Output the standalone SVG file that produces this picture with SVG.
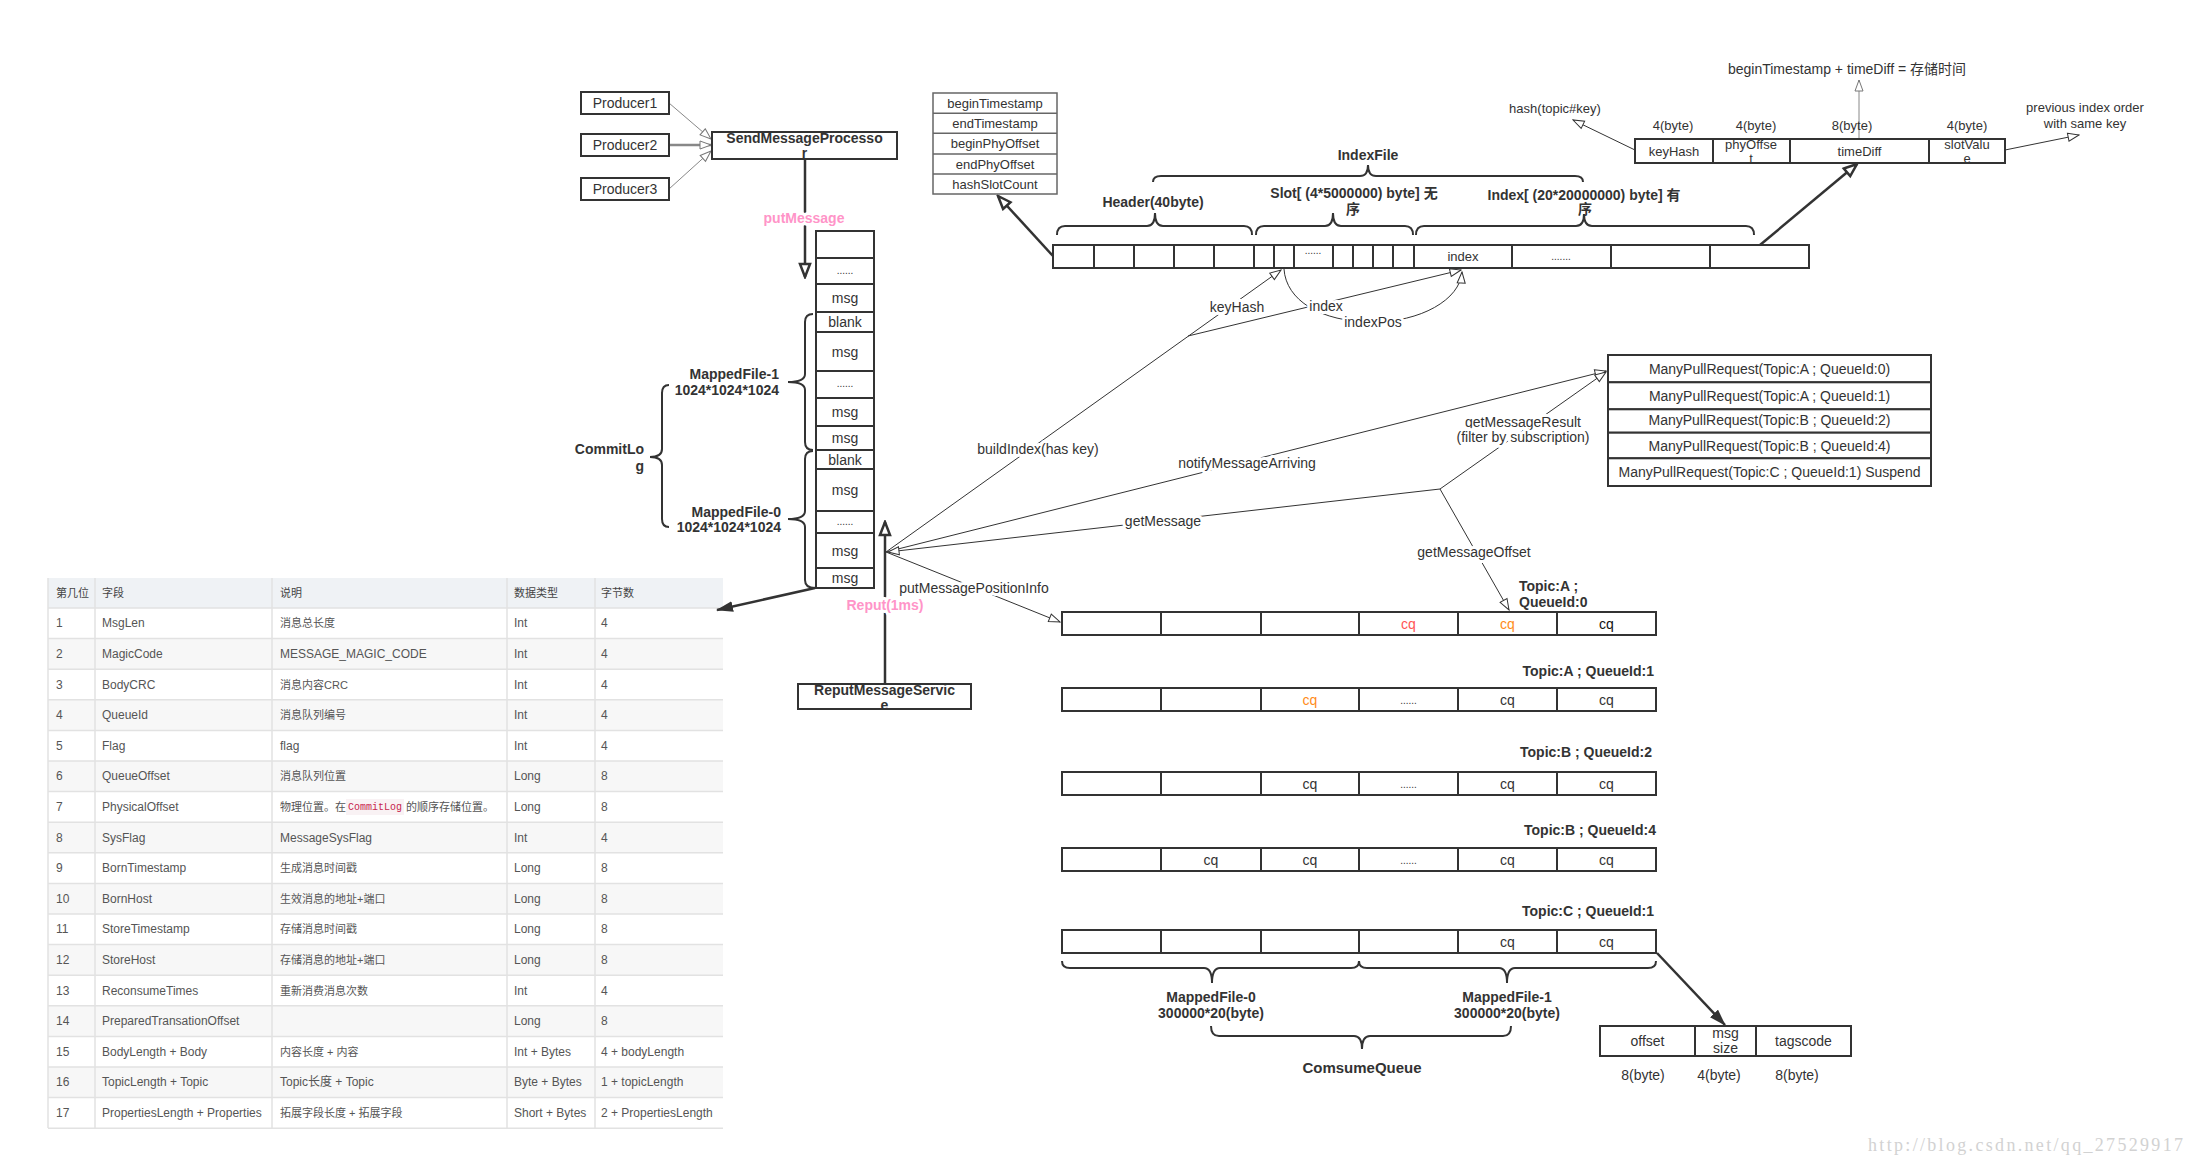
<svg xmlns="http://www.w3.org/2000/svg" width="2197" height="1166" viewBox="0 0 2197 1166">
<defs>
<style>
text{font-family:'Liberation Sans','Noto Sans CJK SC',sans-serif;font-size:14px;fill:#333;}
.c{text-anchor:middle;dominant-baseline:central;}
.e{text-anchor:end;dominant-baseline:central;}
.s{dominant-baseline:central;}
.b{font-weight:bold;}
.pk{fill:#ff94c8;font-weight:bold;font-size:14px;}
.box{fill:#fff;stroke:#333;stroke-width:2;}
.gbox{fill:#fff;stroke:#666;stroke-width:1.5;}
.ln{fill:none;stroke:#333;stroke-width:1;}
.gl{fill:none;stroke:#888;stroke-width:1;}
.tk{fill:none;stroke:#333;stroke-width:2.5;}
.br{fill:none;stroke:#333;stroke-width:2;}
.halo{stroke:#fff;stroke-width:6;stroke-linejoin:round;paint-order:stroke;}
.tb text{font-size:12px;fill:#555;dominant-baseline:central;}
.tb text.k{font-size:11px;}
.grid{stroke:#e2e2e2;stroke-width:1.5;}
.dots{font-size:10px;}
.red{fill:#ff5555;}
.org{fill:#ff8c1a;}
.sm{font-size:13px;}
.f13{font-size:13px;}
</style>
<marker id="arO" viewBox="0 0 13 10" refX="12" refY="5" markerWidth="13" markerHeight="10" orient="auto" markerUnits="userSpaceOnUse"><path d="M1,1 L12,5 L1,9 Z" fill="#fff" stroke="#333" stroke-width="1"/></marker>
<marker id="arG" viewBox="0 0 13 10" refX="12" refY="5" markerWidth="13" markerHeight="10" orient="auto" markerUnits="userSpaceOnUse"><path d="M1,1 L12,5 L1,9 Z" fill="#fff" stroke="#777" stroke-width="1"/></marker>
<marker id="arT" viewBox="0 0 17 14" refX="15" refY="7" markerWidth="17" markerHeight="14" orient="auto" markerUnits="userSpaceOnUse"><path d="M2,2 L15,7 L2,12 Z" fill="#fff" stroke="#333" stroke-width="2.5" stroke-linejoin="miter"/></marker>
<marker id="arF" viewBox="0 0 17 11" refX="16" refY="5.5" markerWidth="17" markerHeight="11" orient="auto" markerUnits="userSpaceOnUse"><path d="M0,0 L17,5.5 L0,11 Z" fill="#333"/></marker>
</defs>
<rect x="0" y="0" width="2197" height="1166" fill="#fff"/>

<!-- Table -->
<g id="table" class="tb">
<rect x="48" y="578" width="675" height="30" fill="#eff2f5"/>
<rect x="48" y="638.6" width="675" height="30.6" fill="#f7f7f7"/>
<rect x="48" y="699.8" width="675" height="30.6" fill="#f7f7f7"/>
<rect x="48" y="761" width="675" height="30.6" fill="#f7f7f7"/>
<rect x="48" y="822.2" width="675" height="30.6" fill="#f7f7f7"/>
<rect x="48" y="883.4" width="675" height="30.6" fill="#f7f7f7"/>
<rect x="48" y="944.6" width="675" height="30.6" fill="#f7f7f7"/>
<rect x="48" y="1005.8" width="675" height="30.6" fill="#f7f7f7"/>
<rect x="48" y="1067" width="675" height="30.6" fill="#f7f7f7"/>
<g class="grid">
<line x1="48" y1="608" x2="723" y2="608"/><line x1="48" y1="638.6" x2="723" y2="638.6"/><line x1="48" y1="669.2" x2="723" y2="669.2"/><line x1="48" y1="699.8" x2="723" y2="699.8"/><line x1="48" y1="730.4" x2="723" y2="730.4"/><line x1="48" y1="761" x2="723" y2="761"/><line x1="48" y1="791.6" x2="723" y2="791.6"/><line x1="48" y1="822.2" x2="723" y2="822.2"/><line x1="48" y1="852.8" x2="723" y2="852.8"/><line x1="48" y1="883.4" x2="723" y2="883.4"/><line x1="48" y1="914" x2="723" y2="914"/><line x1="48" y1="944.6" x2="723" y2="944.6"/><line x1="48" y1="975.2" x2="723" y2="975.2"/><line x1="48" y1="1005.8" x2="723" y2="1005.8"/><line x1="48" y1="1036.4" x2="723" y2="1036.4"/><line x1="48" y1="1067" x2="723" y2="1067"/><line x1="48" y1="1097.6" x2="723" y2="1097.6"/><line x1="48" y1="1128.2" x2="723" y2="1128.2"/>
<line x1="48" y1="578" x2="48" y2="1128"/><line x1="95" y1="578" x2="95" y2="1128"/><line x1="272" y1="578" x2="272" y2="1128"/><line x1="507" y1="578" x2="507" y2="1128"/><line x1="595" y1="578" x2="595" y2="1128"/>
</g>
<text x="56" y="593" class="k" style="fill:#444">第几位</text><text x="102" y="593" class="k" style="fill:#444">字段</text><text x="280" y="593" class="k" style="fill:#444">说明</text><text x="514" y="593" class="k" style="fill:#444">数据类型</text><text x="601" y="593" class="k" style="fill:#444">字节数</text>
<text x="56" y="623.3">1</text><text x="102" y="623.3">MsgLen</text><text x="280" y="623.3" class="k">消息总长度</text><text x="514" y="623.3">Int</text><text x="601" y="623.3">4</text>
<text x="56" y="653.9">2</text><text x="102" y="653.9">MagicCode</text><text x="280" y="653.9">MESSAGE_MAGIC_CODE</text><text x="514" y="653.9">Int</text><text x="601" y="653.9">4</text>
<text x="56" y="684.5">3</text><text x="102" y="684.5">BodyCRC</text><text x="280" y="684.5" class="k">消息内容CRC</text><text x="514" y="684.5">Int</text><text x="601" y="684.5">4</text>
<text x="56" y="715.1">4</text><text x="102" y="715.1">QueueId</text><text x="280" y="715.1" class="k">消息队列编号</text><text x="514" y="715.1">Int</text><text x="601" y="715.1">4</text>
<text x="56" y="745.7">5</text><text x="102" y="745.7">Flag</text><text x="280" y="745.7">flag</text><text x="514" y="745.7">Int</text><text x="601" y="745.7">4</text>
<text x="56" y="776.3">6</text><text x="102" y="776.3">QueueOffset</text><text x="280" y="776.3" class="k">消息队列位置</text><text x="514" y="776.3">Long</text><text x="601" y="776.3">8</text>
<text x="56" y="806.9">7</text><text x="102" y="806.9">PhysicalOffset</text>
<rect x="346" y="799" width="58" height="16" fill="#f9f2f4"/>
<text x="280" y="806.9" class="k">物理位置。在</text><text x="348" y="806.9" textLength="54" lengthAdjust="spacingAndGlyphs" style="font-family:'Liberation Mono',monospace;font-size:11px;fill:#c7254e">CommitLog</text><text x="406" y="806.9" class="k">的顺序存储位置。</text>
<text x="514" y="806.9">Long</text><text x="601" y="806.9">8</text>
<text x="56" y="837.5">8</text><text x="102" y="837.5">SysFlag</text><text x="280" y="837.5">MessageSysFlag</text><text x="514" y="837.5">Int</text><text x="601" y="837.5">4</text>
<text x="56" y="868.1">9</text><text x="102" y="868.1">BornTimestamp</text><text x="280" y="868.1" class="k">生成消息时间戳</text><text x="514" y="868.1">Long</text><text x="601" y="868.1">8</text>
<text x="56" y="898.7">10</text><text x="102" y="898.7">BornHost</text><text x="280" y="898.7" class="k">生效消息的地址+端口</text><text x="514" y="898.7">Long</text><text x="601" y="898.7">8</text>
<text x="56" y="929.3">11</text><text x="102" y="929.3">StoreTimestamp</text><text x="280" y="929.3" class="k">存储消息时间戳</text><text x="514" y="929.3">Long</text><text x="601" y="929.3">8</text>
<text x="56" y="959.9">12</text><text x="102" y="959.9">StoreHost</text><text x="280" y="959.9" class="k">存储消息的地址+端口</text><text x="514" y="959.9">Long</text><text x="601" y="959.9">8</text>
<text x="56" y="990.5">13</text><text x="102" y="990.5">ReconsumeTimes</text><text x="280" y="990.5" class="k">重新消费消息次数</text><text x="514" y="990.5">Int</text><text x="601" y="990.5">4</text>
<text x="56" y="1021.1">14</text><text x="102" y="1021.1">PreparedTransationOffset</text><text x="514" y="1021.1">Long</text><text x="601" y="1021.1">8</text>
<text x="56" y="1051.7">15</text><text x="102" y="1051.7">BodyLength + Body</text><text x="280" y="1051.7" class="k">内容长度 + 内容</text><text x="514" y="1051.7">Int + Bytes</text><text x="601" y="1051.7">4 + bodyLength</text>
<text x="56" y="1082.3">16</text><text x="102" y="1082.3">TopicLength + Topic</text><text x="280" y="1082.3">Topic长度 + Topic</text><text x="514" y="1082.3">Byte + Bytes</text><text x="601" y="1082.3">1 + topicLength</text>
<text x="56" y="1112.9">17</text><text x="102" y="1112.9">PropertiesLength + Properties</text><text x="280" y="1112.9" class="k">拓展字段长度 + 拓展字段</text><text x="514" y="1112.9">Short + Bytes</text><text x="601" y="1112.9">2 + PropertiesLength</text>
</g>

<!-- Connectors -->
<g id="connectors">
<path class="gl" d="M669,103 L711,139" marker-end="url(#arG)"/>
<path d="M669,145 L711,145" fill="none" stroke="#888" stroke-width="2.5" marker-end="url(#arG)"/>
<path class="gl" d="M669,189 L711,151" marker-end="url(#arG)"/>
<path class="tk" d="M805,159 L805,277" stroke-width="3" marker-end="url(#arT)"/>
<path class="tk" d="M885,684 L885,522" stroke-width="3" marker-end="url(#arT)"/>
<path class="tk" d="M815,588 L717,610" marker-end="url(#arF)"/>
<path class="ln" d="M886,552 L1281,270" marker-end="url(#arO)"/>
<path class="ln" d="M1188,336 L1461,270" marker-end="url(#arO)"/>
<path class="ln" d="M1284,269 C1286,300 1320,322 1373,322 C1420,322 1460,300 1462,272" marker-end="url(#arO)"/>
<path class="ln" d="M886,552 L1606,371" marker-end="url(#arO)"/>
<path class="ln" d="M1440,489 L888,552" marker-end="url(#arO)"/>
<path class="ln" d="M1440,489 L1606,372" marker-end="url(#arO)"/>
<path class="ln" d="M1440,489 L1509,610" marker-end="url(#arO)"/>
<path class="ln" d="M886,552 L1060,622" marker-end="url(#arO)"/>
<path class="tk" stroke-width="2" d="M1053,256 L998,196" marker-end="url(#arT)"/>
<path class="tk" stroke-width="2" d="M1760,245 L1857,164" marker-end="url(#arT)"/>
<path class="ln" d="M1635,150 L1573,120" marker-end="url(#arO)"/>
<path class="gl" d="M1859,139 L1859,80" marker-end="url(#arG)"/>
<path class="ln" d="M2005,150 L2079,135" marker-end="url(#arO)"/>
<path class="tk" stroke-width="2" d="M1657,953 L1725,1025" marker-end="url(#arF)"/>
<text x="804" y="218" class="c pk halo">putMessage</text>
<text x="885" y="605" class="c pk halo">Reput(1ms)</text>
<text x="1038" y="449" class="c halo">buildIndex(has key)</text>
<text x="1237" y="307" class="c halo">keyHash</text>
<text x="1326" y="306" class="c halo">index</text>
<text x="1373" y="322" class="c halo">indexPos</text>
<text x="1247" y="463" class="c halo">notifyMessageArriving</text>
<text x="1163" y="521" class="c halo">getMessage</text>
<text x="1523" y="422" class="c halo">getMessageResult</text>
<text x="1523" y="437" class="c halo">(filter by subscription)</text>
<text x="1474" y="552" class="c halo">getMessageOffset</text>
<text x="974" y="588" class="c halo">putMessagePositionInfo</text>
</g>

<!-- Producers -->
<g id="producer1"><rect class="box" x="581" y="92" width="88" height="22"/><text x="625" y="103" class="c">Producer1</text></g>
<g id="producer2"><rect class="box" x="581" y="134" width="88" height="22"/><text x="625" y="145" class="c">Producer2</text></g>
<g id="producer3"><rect class="box" x="581" y="178" width="88" height="22"/><text x="625" y="189" class="c">Producer3</text></g>
<g id="sendMessageProcessor"><rect class="box" x="712" y="132" width="185" height="27"/><text x="804.5" y="138" class="c b">SendMessageProcesso</text><text x="804.5" y="153" class="c b">r</text></g>

<!-- CommitLog column -->
<g id="commitlog">
<rect class="box" x="816" y="231" width="58" height="357"/>
<g stroke="#333" stroke-width="2">
<line x1="816" y1="258" x2="874" y2="258"/><line x1="816" y1="284" x2="874" y2="284"/><line x1="816" y1="312" x2="874" y2="312"/><line x1="816" y1="332" x2="874" y2="332"/><line x1="816" y1="371" x2="874" y2="371"/><line x1="816" y1="398" x2="874" y2="398"/><line x1="816" y1="426" x2="874" y2="426"/><line x1="816" y1="450" x2="874" y2="450"/><line x1="816" y1="469" x2="874" y2="469"/><line x1="816" y1="511" x2="874" y2="511"/><line x1="816" y1="533" x2="874" y2="533"/><line x1="816" y1="568" x2="874" y2="568"/>
</g>
<text x="845" y="270" class="c dots">......</text>
<text x="845" y="298" class="c">msg</text>
<text x="845" y="322" class="c">blank</text>
<text x="845" y="351.5" class="c">msg</text>
<text x="845" y="383" class="c dots">......</text>
<text x="845" y="412" class="c">msg</text>
<text x="845" y="438" class="c">msg</text>
<text x="845" y="459.5" class="c">blank</text>
<text x="845" y="490" class="c">msg</text>
<text x="845" y="521" class="c dots">......</text>
<text x="845" y="550.5" class="c">msg</text>
<text x="845" y="578" class="c">msg</text>
</g>
<g id="mappedfile1-brace"><path class="br" d="M813,314 Q805,314 805,322 L805,374 Q805,382 788,382 Q805,382 805,390 L805,442 Q805,450 813,450"/><text x="779" y="374" class="e b">MappedFile-1</text><text x="779" y="390" class="e b">1024*1024*1024</text></g>
<g id="mappedfile0-brace"><path class="br" d="M813,451 Q805,451 805,459 L805,511 Q805,519 788,519 Q805,519 805,527 L805,580 Q805,588 815,588"/><text x="781" y="512" class="e b">MappedFile-0</text><text x="781" y="527" class="e b">1024*1024*1024</text></g>
<g id="commitlog-brace"><path class="br" d="M669,385 Q662,385 662,393 L662,449 Q662,457 650,457 Q662,457 662,465 L662,519 Q662,527 669,527"/><text x="644" y="449" class="e b">CommitLo</text><text x="644" y="466" class="e b">g</text></g>

<g id="reputMessageService"><rect class="box" x="798" y="684" width="173" height="25"/><text x="884.5" y="690" class="c b">ReputMessageServic</text><text x="884.5" y="705" class="c b">e</text></g>

<!-- IndexFile header fields -->
<g id="indexHeader">
<rect class="gbox" x="933" y="93" width="124" height="101"/>
<g stroke="#666" stroke-width="1.5"><line x1="933" y1="113.3" x2="1057" y2="113.3"/><line x1="933" y1="133.3" x2="1057" y2="133.3"/><line x1="933" y1="154" x2="1057" y2="154"/><line x1="933" y1="174" x2="1057" y2="174"/></g>
<text x="995" y="103.5" class="c f13">beginTimestamp</text>
<text x="995" y="123.5" class="c f13">endTimestamp</text>
<text x="995" y="143.8" class="c f13">beginPhyOffset</text>
<text x="995" y="164" class="c f13">endPhyOffset</text>
<text x="995" y="184" class="c f13">hashSlotCount</text>
</g>

<!-- IndexFile bar -->
<g id="indexFile">
<rect class="box" x="1053" y="245" width="756" height="23"/>
<g stroke="#333" stroke-width="2">
<line x1="1094" y1="245" x2="1094" y2="268"/><line x1="1134" y1="245" x2="1134" y2="268"/><line x1="1174" y1="245" x2="1174" y2="268"/><line x1="1214" y1="245" x2="1214" y2="268"/><line x1="1254" y1="245" x2="1254" y2="268"/><line x1="1274" y1="245" x2="1274" y2="268"/><line x1="1294" y1="245" x2="1294" y2="268"/><line x1="1333" y1="245" x2="1333" y2="268"/><line x1="1353" y1="245" x2="1353" y2="268"/><line x1="1373" y1="245" x2="1373" y2="268"/><line x1="1393" y1="245" x2="1393" y2="268"/><line x1="1414" y1="245" x2="1414" y2="268"/><line x1="1512" y1="245" x2="1512" y2="268"/><line x1="1611" y1="245" x2="1611" y2="268"/><line x1="1710" y1="245" x2="1710" y2="268"/>
</g>
<text x="1313" y="250" class="c dots">......</text>
<text x="1463" y="256.5" class="c f13">index</text>
<text x="1561" y="256" class="c dots">.......</text>
<path class="br" d="M1057,235 Q1057,226 1065,226 L1147,226 Q1155,226 1155,213 Q1155,226 1163,226 L1244,226 Q1252,226 1252,235"/>
<path class="br" d="M1256,235 Q1256,226 1264,226 L1325,226 Q1333,226 1333,213 Q1333,226 1341,226 L1405,226 Q1413,226 1413,235"/>
<path class="br" d="M1416,235 Q1416,226 1424,226 L1576,226 Q1584,226 1584,214 Q1584,226 1592,226 L1746,226 Q1754,226 1754,235"/>
<path class="br" d="M1153,182 Q1153,176 1161,176 L1360,176 Q1368,176 1368,165 Q1368,176 1376,176 L1575,176 Q1583,176 1583,182"/>
<text x="1368" y="155" class="c b">IndexFile</text>
<text x="1153" y="202" class="c b">Header(40byte)</text>
<text x="1354" y="193" class="c b">Slot[ (4*5000000) byte] 无</text>
<text x="1353" y="209" class="c b">序</text>
<text x="1584" y="195" class="c b">Index[ (20*20000000) byte] 有</text>
<text x="1585" y="209" class="c b">序</text>
</g>

<!-- Index entry -->
<g id="indexEntry">
<rect class="box" x="1635" y="139" width="370" height="24"/>
<g stroke="#333" stroke-width="2"><line x1="1713" y1="139" x2="1713" y2="163"/><line x1="1790" y1="139" x2="1790" y2="163"/><line x1="1929" y1="139" x2="1929" y2="163"/></g>
<text x="1674" y="151" class="c sm">keyHash</text>
<text x="1751" y="144" class="c sm">phyOffse</text><text x="1751" y="158" class="c sm">t</text>
<text x="1859.5" y="151" class="c sm">timeDiff</text>
<text x="1967" y="144" class="c sm">slotValu</text><text x="1967" y="158" class="c sm">e</text>
<text x="1673" y="125" class="c sm">4(byte)</text>
<text x="1756" y="125" class="c sm">4(byte)</text>
<text x="1852" y="125" class="c sm">8(byte)</text>
<text x="1967" y="125" class="c sm">4(byte)</text>
<text x="1555" y="108" class="c sm">hash(topic#key)</text>
<text x="1847" y="69" class="c">beginTimestamp + timeDiff = 存储时间</text>
<text x="2085" y="107" class="c sm">previous index order</text>
<text x="2085" y="123" class="c sm">with same key</text>
</g>

<!-- ManyPullRequest -->
<g id="manyPullRequest">
<rect class="box" x="1608" y="355" width="323" height="27.3"/>
<rect class="box" x="1608" y="382.3" width="323" height="27"/>
<rect class="box" x="1608" y="409.3" width="323" height="23.4"/>
<rect class="box" x="1608" y="432.7" width="323" height="25.6"/>
<rect class="box" x="1608" y="458.3" width="323" height="27.7"/>
<text x="1769.5" y="369" class="c">ManyPullRequest(Topic:A ; QueueId:0)</text>
<text x="1769.5" y="396" class="c">ManyPullRequest(Topic:A ; QueueId:1)</text>
<text x="1769.5" y="420" class="c">ManyPullRequest(Topic:B ; QueueId:2)</text>
<text x="1769.5" y="446" class="c">ManyPullRequest(Topic:B ; QueueId:4)</text>
<text x="1769.5" y="472" class="c">ManyPullRequest(Topic:C ; QueueId:1) Suspend</text>
</g>

<!-- ConsumeQueue rows -->
<g id="cq-A0">
<rect class="box" x="1062" y="612" width="594" height="23"/>
<g stroke="#333" stroke-width="2"><line x1="1161" y1="612" x2="1161" y2="635"/><line x1="1261" y1="612" x2="1261" y2="635"/><line x1="1359" y1="612" x2="1359" y2="635"/><line x1="1458" y1="612" x2="1458" y2="635"/><line x1="1557" y1="612" x2="1557" y2="635"/></g>
<text x="1408.5" y="623.5" class="c red">cq</text><text x="1507.5" y="623.5" class="c org">cq</text><text x="1606.5" y="623.5" class="c" style="fill:#111">cq</text>
<text x="1519" y="586" class="s b">Topic:A ;</text><text x="1519" y="602" class="s b">QueueId:0</text>
</g>
<g id="cq-A1">
<rect class="box" x="1062" y="688" width="594" height="23"/>
<g stroke="#333" stroke-width="2"><line x1="1161" y1="688" x2="1161" y2="711"/><line x1="1261" y1="688" x2="1261" y2="711"/><line x1="1359" y1="688" x2="1359" y2="711"/><line x1="1458" y1="688" x2="1458" y2="711"/><line x1="1557" y1="688" x2="1557" y2="711"/></g>
<text x="1310" y="699.5" class="c org">cq</text><text x="1408.5" y="700" class="c dots">......</text><text x="1507.5" y="699.5" class="c">cq</text><text x="1606.5" y="699.5" class="c">cq</text>
<text x="1654" y="671" class="e b">Topic:A ; QueueId:1</text>
</g>
<g id="cq-B2">
<rect class="box" x="1062" y="772" width="594" height="23"/>
<g stroke="#333" stroke-width="2"><line x1="1161" y1="772" x2="1161" y2="795"/><line x1="1261" y1="772" x2="1261" y2="795"/><line x1="1359" y1="772" x2="1359" y2="795"/><line x1="1458" y1="772" x2="1458" y2="795"/><line x1="1557" y1="772" x2="1557" y2="795"/></g>
<text x="1310" y="783.5" class="c">cq</text><text x="1408.5" y="784" class="c dots">......</text><text x="1507.5" y="783.5" class="c">cq</text><text x="1606.5" y="783.5" class="c">cq</text>
<text x="1652" y="752" class="e b">Topic:B ; QueueId:2</text>
</g>
<g id="cq-B4">
<rect class="box" x="1062" y="848" width="594" height="23"/>
<g stroke="#333" stroke-width="2"><line x1="1161" y1="848" x2="1161" y2="871"/><line x1="1261" y1="848" x2="1261" y2="871"/><line x1="1359" y1="848" x2="1359" y2="871"/><line x1="1458" y1="848" x2="1458" y2="871"/><line x1="1557" y1="848" x2="1557" y2="871"/></g>
<text x="1211" y="859.5" class="c">cq</text><text x="1310" y="859.5" class="c">cq</text><text x="1408.5" y="860" class="c dots">......</text><text x="1507.5" y="859.5" class="c">cq</text><text x="1606.5" y="859.5" class="c">cq</text>
<text x="1656" y="830" class="e b">Topic:B ; QueueId:4</text>
</g>
<g id="cq-C1">
<rect class="box" x="1062" y="930" width="594" height="23"/>
<g stroke="#333" stroke-width="2"><line x1="1161" y1="930" x2="1161" y2="953"/><line x1="1261" y1="930" x2="1261" y2="953"/><line x1="1359" y1="930" x2="1359" y2="953"/><line x1="1458" y1="930" x2="1458" y2="953"/><line x1="1557" y1="930" x2="1557" y2="953"/></g>
<text x="1507.5" y="941.5" class="c">cq</text><text x="1606.5" y="941.5" class="c">cq</text>
<text x="1654" y="911" class="e b">Topic:C ; QueueId:1</text>
</g>
<g id="cq-braces">
<path class="br" d="M1062,961 Q1062,968 1070,968 L1204,968 Q1212,968 1212,983 Q1212,968 1220,968 L1351,968 Q1359,968 1359,961"/>
<path class="br" d="M1359,961 Q1359,968 1367,968 L1499,968 Q1507,968 1507,983 Q1507,968 1515,968 L1648,968 Q1656,968 1656,961"/>
<path class="br" d="M1211,1026 Q1211,1036 1219,1036 L1354,1036 Q1362,1036 1362,1049 Q1362,1036 1370,1036 L1503,1036 Q1511,1036 1511,1026"/>
<text x="1211" y="997" class="c b">MappedFile-0</text><text x="1211" y="1013" class="c b">300000*20(byte)</text>
<text x="1507" y="997" class="c b">MappedFile-1</text><text x="1507" y="1013" class="c b">300000*20(byte)</text>
<text x="1362" y="1067" class="c b" style="font-size:15px">ComsumeQueue</text>
</g>

<!-- CQ entry -->
<g id="cqEntry">
<rect class="box" x="1600" y="1026" width="251" height="30"/>
<g stroke="#333" stroke-width="2"><line x1="1695" y1="1026" x2="1695" y2="1056"/><line x1="1756" y1="1026" x2="1756" y2="1056"/></g>
<text x="1647.5" y="1041" class="c">offset</text>
<text x="1725.5" y="1033" class="c">msg</text><text x="1725.5" y="1048" class="c">size</text>
<text x="1803.5" y="1041" class="c">tagscode</text>
<text x="1643" y="1075" class="c">8(byte)</text>
<text x="1719" y="1075" class="c">4(byte)</text>
<text x="1797" y="1075" class="c">8(byte)</text>
</g>

<text x="1868" y="1145" class="s" textLength="315" lengthAdjust="spacing" style="font-family:'Liberation Serif',serif;font-size:18px;fill:#d2d2d2">http://blog.csdn.net/qq_27529917</text>
</svg>
